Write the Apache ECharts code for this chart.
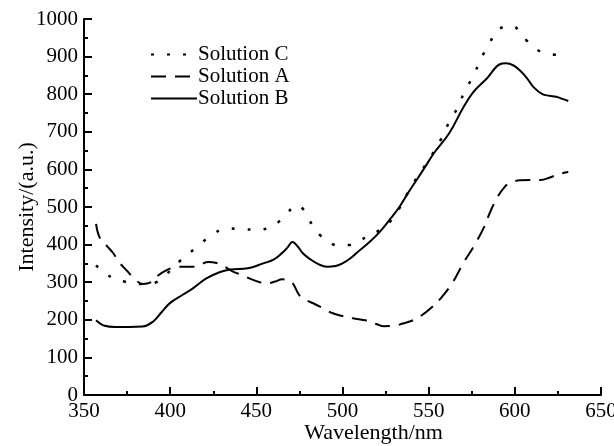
<!DOCTYPE html>
<html>
<head>
<meta charset="utf-8">
<script src="https://cdn.jsdelivr.net/npm/echarts@6/dist/echarts.min.js"></script>
<style>
  html, body { margin: 0; padding: 0; background: #fff; }
  #main { width: 614px; height: 446px; }
</style>
</head>
<body>
<div id="main"></div>
<script>
"use strict";

// wavelength (nm) / intensity pairs
var waveB = [357, 362, 368, 376, 384, 390, 395, 400, 407, 413, 421, 429, 435, 445, 454, 460, 465, 468, 471, 474, 477, 481, 486, 491, 496, 500, 505, 510, 516, 522, 528, 533, 538, 543, 548, 553, 562, 570, 576, 584, 591, 595, 599, 603, 607, 611, 616, 620, 624, 628, 631];
var intB = [199, 184, 181, 181, 182, 195, 220, 245, 266, 283, 310, 327, 334, 337, 350, 360, 378, 392, 407, 395, 377, 362, 348, 341, 343, 350, 365, 385, 408, 436, 470, 500, 537, 572, 607, 643, 697, 764, 806, 843, 879, 882, 877, 863, 843, 818, 800, 796, 793, 787, 782];

var waveC = [357, 362, 367, 375, 385, 392, 398, 407, 416, 424, 433, 442, 450, 459, 464, 468, 471, 474, 477, 480, 484, 487, 492, 496, 504, 510, 515, 522, 530, 540, 550, 558, 562, 567, 571, 576, 580, 585, 590, 595, 599, 603, 607, 611, 615, 620, 624];
var intC = [345, 325, 311, 300, 295, 300, 322, 362, 395, 425, 443, 441, 440, 447, 465, 482, 500, 505, 495, 470, 443, 425, 408, 399, 399, 410, 425, 440, 475, 555, 625, 687, 727, 766, 809, 849, 891, 933, 970, 980, 981, 963, 942, 925, 913, 907, 905];

var waveA = [357, 359, 363, 367, 370, 375, 379, 384, 389, 393, 398, 403, 408, 413, 418, 422, 427, 432, 437, 442, 447, 452, 456, 461, 465, 468, 471, 475, 479, 483, 489, 494, 500, 506, 514, 520, 524, 530, 535, 541, 546, 551, 557, 564, 570, 576, 582, 586, 590, 594, 597, 603, 609, 615, 620, 626, 631];
var intA = [455, 420, 398, 377, 355, 330, 311, 295, 300, 318, 332, 340, 341, 341, 348, 354, 351, 340, 327, 319, 308, 300, 297, 302, 308, 305, 298, 265, 252, 244, 230, 218, 210, 204, 198, 188, 183, 184, 190, 199, 212, 230, 257, 300, 350, 394, 445, 490, 527, 553, 564, 571, 572, 572, 578, 588, 593];

var names = ["Solution C", "Solution A", "Solution B"];

function pairs(xs, ys) {
    return xs.map(function(x, i) { return [x, ys[i]]; });
}

var font = "Liberation Serif";
var chart = echarts.init(document.getElementById("main"));

var axisCommon = {
    nameMoveOverlap: false,
    axisLine: { show: true, onZero: false, lineStyle: { color: "#000", width: 2 } },
    axisTick: { show: true, inside: true, length: 8, lineStyle: { color: "#000", width: 2 } },
    minorTick: { show: true, splitNumber: 2, length: 4, lineStyle: { color: "#000", width: 2 } },
    splitLine: { show: false }
};

var option = {
    animation: false,
    backgroundColor: "#fff",
    grid: { left: 84, right: 13, top: 19, bottom: 51, outerBoundsMode: "none", containLabel: false },
    legend: {
        data: names,
        orient: "vertical",
        left: 145,
        top: 39,
        itemWidth: 46,
        itemHeight: 14,
        itemGap: 1,
        itemStyle: { opacity: 0 },
        textStyle: { color: "#000", fontFamily: font, fontSize: 21, padding: [0, 0, 0, -4] }
    },
    xAxis: Object.assign({}, axisCommon, {
        type: "value",
        min: 350,
        max: 650,
        interval: 50,
        name: "Wavelength/nm",
        nameLocation: "middle",
        nameGap: 27,
        nameTextStyle: { color: "#000", fontFamily: font, fontSize: 22, padding: [0, 0, 0, 62] },
        axisLabel: { color: "#000", fontFamily: font, fontSize: 21, margin: 6 }
    }),
    yAxis: Object.assign({}, axisCommon, {
        type: "value",
        min: 0,
        max: 1000,
        interval: 100,
        name: "Intensity/(a.u.)",
        nameLocation: "middle",
        nameGap: 46,
        nameTextStyle: { color: "#000", fontFamily: font, fontSize: 22 },
        axisLabel: { color: "#000", fontFamily: font, fontSize: 21, margin: 6, formatter: function(v) { return String(v); } }
    }),
    series: [{
        name: "Solution C",
        type: "line",
        smooth: 0.4,
        symbol: "none",
        data: pairs(waveC, intC),
        lineStyle: { color: "#000", width: 2.5, type: [3, 13] },
        itemStyle: { color: "#000" }
    }, {
        name: "Solution A",
        type: "line",
        smooth: 0.4,
        symbol: "none",
        data: pairs(waveA, intA),
        lineStyle: { color: "#000", width: 2, type: [15, 9] },
        itemStyle: { color: "#000" }
    }, {
        name: "Solution B",
        type: "line",
        smooth: 0.4,
        symbol: "none",
        data: pairs(waveB, intB),
        lineStyle: { color: "#000", width: 2 },
        itemStyle: { color: "#000" }
    }]
};

chart.setOption(option);
</script>
</body>
</html>
